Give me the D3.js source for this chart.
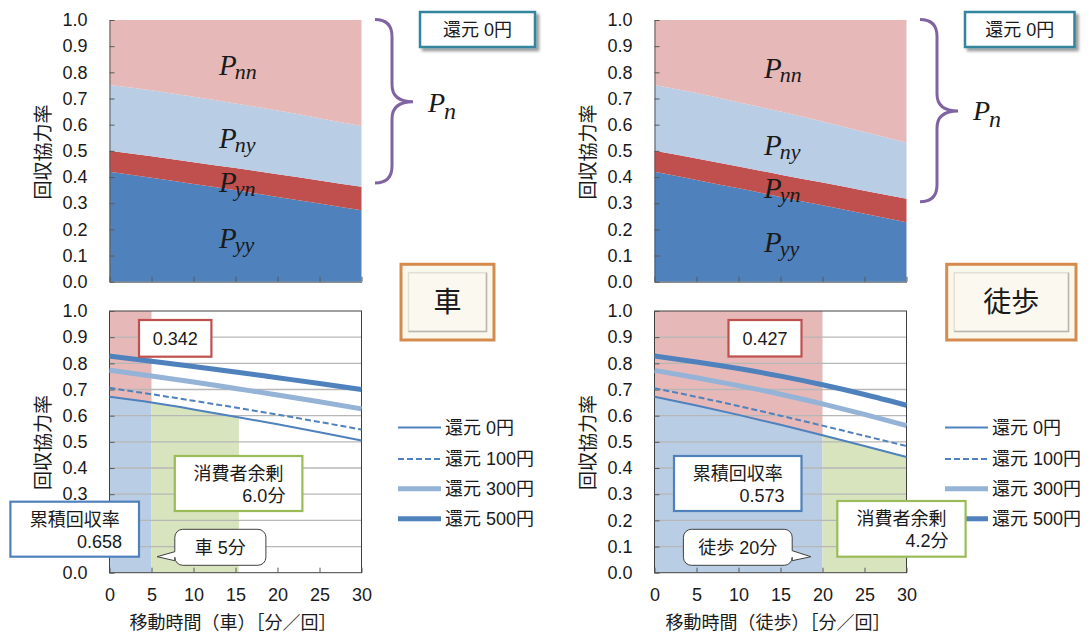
<!DOCTYPE html>
<html><head><meta charset="utf-8">
<script src="https://cdn.jsdelivr.net/npm/d3@7"></script>
<style>
body{margin:0;background:#fff;}
svg text{font-family:"Liberation Sans",Arial,"Noto Sans CJK JP",sans-serif;fill:#1a1a1a;}
</style></head><body>
<svg id="c" width="1090" height="637"></svg>
<script>
// ---------------- data ----------------
const minutes = [0, 5, 10, 15, 20, 25, 30];
const xTickLabels = ["0", "5", "10", "15", "20", "25", "30"];
const yTickValues = [0, 0.1, 0.2, 0.3, 0.4, 0.5, 0.6, 0.7, 0.8, 0.9, 1.0];
const yTickLabels = ["0.0", "0.1", "0.2", "0.3", "0.4", "0.5", "0.6", "0.7", "0.8", "0.9", "1.0"];
const stackKeys = ["Pyy", "Pyn", "Pny", "Pnn"];
const stackLabelSubs = ["yy", "yn", "ny", "nn"];

// car (車) – stacked shares
const carPyy = [0.420, 0.397, 0.373, 0.349, 0.324, 0.299, 0.273];
const carPyn = [0.080, 0.082, 0.083, 0.085, 0.087, 0.088, 0.090];
const carPny = [0.252, 0.253, 0.251, 0.247, 0.243, 0.238, 0.232];
const carPnn = [0.248, 0.268, 0.293, 0.319, 0.346, 0.375, 0.405];
// walk (徒歩) – stacked shares
const walkPyy = [0.420, 0.389, 0.357, 0.324, 0.292, 0.260, 0.227];
const walkPyn = [0.080, 0.082, 0.083, 0.085, 0.087, 0.088, 0.090];
const walkPny = [0.252, 0.250, 0.246, 0.241, 0.233, 0.224, 0.215];
const walkPnn = [0.248, 0.279, 0.314, 0.350, 0.388, 0.428, 0.468];

// recovery-rate lines
const lineNames = ["還元 0円", "還元 100円", "還元 300円", "還元 500円"];
const car0   = [0.672, 0.650, 0.624, 0.596, 0.567, 0.537, 0.505];
const car100 = [0.706, 0.682, 0.657, 0.631, 0.604, 0.576, 0.547];
const car300 = [0.774, 0.752, 0.729, 0.704, 0.679, 0.653, 0.626];
const car500 = [0.828, 0.808, 0.788, 0.767, 0.745, 0.723, 0.700];
const walk0   = [0.672, 0.639, 0.603, 0.565, 0.525, 0.484, 0.442];
const walk100 = [0.705, 0.672, 0.637, 0.600, 0.562, 0.523, 0.484];
const walk300 = [0.773, 0.745, 0.715, 0.682, 0.645, 0.605, 0.562];
const walk500 = [0.828, 0.805, 0.780, 0.751, 0.718, 0.681, 0.640];

const modeLabels = ["車", "徒歩"];
const travelTime = [5, 20];
const surplusEnd = [15.4, 30];
const cumLabel = "累積回収率";
const cumRate = ["0.658", "0.573"];
const restRate = ["0.342", "0.427"];
const surplusLabel = "消費者余剰";
const surplusText = ["6.0分", "4.2分"];
const calloutText = ["車 5分", "徒歩 20分"];
const axisTitles = ["移動時間（車）［分／回］", "移動時間（徒歩）［分／回］"];
const yTitle = "回収協力率";
const topBoxText = "還元 0円";

// ---------------- styles / layout ----------------
const stackColors = ["#4F81BD", "#C0504D", "#B9CDE5", "#E6B9B8"];
const lineStyles = [
  {w: 2, c: "#4F81BD", dash: null},
  {w: 2, c: "#4F81BD", dash: "6,3"},
  {w: 5, c: "#95B3D7", dash: null},
  {w: 5, c: "#4F81BD", dash: null}
];
const shadeColors = {red: "#E6B9B8", blue: "#B9CDE5", green: "#D7E4BD"};
const FS = 18;

const panels = [
  {pyy: carPyy, pyn: carPyn, pny: carPny, pnn: carPnn, lines: [car0, car100, car300, car500],
   labelBase: [248, 192, 148, 75], braceBottom: 183, braceMid: 101.7, pnBase: 111.7,
   legendX: 398,
   restBox: [139, 320, 72.4, 36.7], cumBox: [10.4, 501.7, 128.6, 55], surBox: [174.8, 456, 127.6, 55],
   callout: {x1: 174.8, y1: 529.3, x2: 265.9, y2: 565.3, side: "left", tx: 157, ty: 556.7, b1: 551.7, b2: 560.7},
   modeBox: [401, 264.3, 93, 75.7]},
  {pyy: walkPyy, pyn: walkPyn, pny: walkPny, pnn: walkPnn, lines: [walk0, walk100, walk300, walk500],
   labelBase: [252, 198, 155, 78], braceBottom: 201.7, braceMid: 111, pnBase: 120,
   legendX: 400,
   restBox: [183.5, 320, 73, 36.5], cumBox: [129, 456, 127.5, 55], surBox: [292.3, 501, 128.3, 55.7],
   callout: {x1: 138.4, y1: 529.3, x2: 247.2, y2: 565.3, side: "right", tx: 265.9, ty: 556.7, b1: 550.7, b2: 560.7},
   modeBox: [401.7, 264.3, 129.3, 75.7]}
];

const svg = d3.select("#c");
svg.append("rect").attr("width", 1090).attr("height", 637).attr("fill", "#fff");
const defs = svg.append("defs");
const sh = defs.append("filter").attr("id", "sh").attr("x", "-20%").attr("y", "-30%").attr("width", "150%").attr("height", "180%");
sh.append("feGaussianBlur").attr("in", "SourceAlpha").attr("stdDeviation", 1.5);
sh.append("feOffset").attr("dx", 3).attr("dy", 3);
sh.append("feComponentTransfer").append("feFuncA").attr("type", "linear").attr("slope", 0.4);
const mg = sh.append("feMerge"); mg.append("feMergeNode"); mg.append("feMergeNode").attr("in", "SourceGraphic");

function styleAxis(sel) {
  sel.select(".domain").attr("stroke", "#595959").attr("stroke-width", 1);
  sel.selectAll(".tick line").attr("stroke", "#595959");
  sel.selectAll(".tick text").attr("font-size", FS).attr("fill", "#1a1a1a")
     .attr("font-family", '"Liberation Sans",Arial,sans-serif');
}

function calloutPath(c, r) {
  const {x1, y1, x2, y2} = c;
  let p = `M${x1 + r},${y1}H${x2 - r}A${r},${r} 0 0 1 ${x2},${y1 + r}`;
  if (c.side === "right") p += `V${c.b1}L${c.tx},${c.ty}L${x2},${c.b2}`;
  p += `V${y2 - r}A${r},${r} 0 0 1 ${x2 - r},${y2}H${x1 + r}A${r},${r} 0 0 1 ${x1},${y2 - r}`;
  if (c.side === "left") p += `V${c.b2}L${c.tx},${c.ty}L${x1},${c.b1}`;
  p += `V${y1 + r}A${r},${r} 0 0 1 ${x1 + r},${y1}Z`;
  return p;
}

panels.forEach((P, i) => {
  const ox = i * 545;
  const g = svg.append("g").attr("transform", `translate(${ox},0)`);
  const x = d3.scaleLinear().domain([0, 30]).range([109.5, 361.5]);
  const yT = d3.scaleLinear().domain([0, 1]).range([281.7, 20]);
  const yB = d3.scaleLinear().domain([0, 1]).range([572.7, 311]);

  // ---------- top stacked chart ----------
  const rows = minutes.map((m, j) => ({m, Pyy: P.pyy[j], Pyn: P.pyn[j], Pny: P.pny[j], Pnn: P.pnn[j]}));
  const series = d3.stack().keys(stackKeys)(rows);
  const area = d3.area().x(d => x(d.data.m)).y0(d => yT(d[0])).y1(d => yT(Math.min(1, d[1]))).curve(d3.curveMonotoneX);
  g.append("g").selectAll("path").data(series).join("path")
    .attr("d", area).attr("fill", (d, k) => stackColors[k]);

  const yAxT = g.append("g").attr("transform", `translate(${x(0)},0)`)
    .call(d3.axisLeft(yT).tickValues(yTickValues).tickFormat((d, k) => yTickLabels[k]).tickSizeInner(-5).tickSizeOuter(0).tickPadding(22));
  styleAxis(yAxT);
  const xAxT = g.append("g").attr("transform", `translate(0,${yT(0)})`)
    .call(d3.axisBottom(x).tickValues(minutes).tickFormat("").tickSizeInner(-5).tickSizeOuter(0));
  styleAxis(xAxT);

  // P labels
  stackKeys.forEach((k, j) => {
    const t = g.append("text").attr("x", 219).attr("y", P.labelBase[j]).attr("font-style", "italic");
    t.append("tspan").text("P").attr("font-size", 29).style("font-family", '"Liberation Serif",serif');
    t.append("tspan").text(stackLabelSubs[j]).attr("font-size", 22).attr("dy", 4).attr("dx", -2).style("font-family", '"Liberation Serif",serif');
  });

  // brace
  const bx0 = 375, bxv = 392, bxt = 413, bt = 19.5, bb = P.braceBottom, bm = P.braceMid, r = 17;
  g.append("path")
    .attr("d", `M${bx0},${bt}Q${bxv},${bt} ${bxv},${bt + r}V${bm - r}Q${bxv},${bm} ${bxt},${bm}Q${bxv},${bm} ${bxv},${bm + r}V${bb - r}Q${bxv},${bb} ${bx0},${bb}`)
    .attr("fill", "none").attr("stroke", "#8064A2").attr("stroke-width", 3);
  const pn = g.append("text").attr("x", 428).attr("y", P.pnBase).attr("font-style", "italic");
  pn.append("tspan").text("P").attr("font-size", 28).style("font-family", '"Liberation Serif",serif');
  pn.append("tspan").text("n").attr("font-size", 24).attr("dy", 7).attr("dx", -1).style("font-family", '"Liberation Serif",serif');

  // 還元 0円 box
  const bw = i === 0 ? 115 : 109.5;
  const bxs = 420;
  g.append("rect").attr("x", bxs).attr("y", 12).attr("width", bw).attr("height", 35)
    .attr("fill", "#fff").attr("stroke", "#31859C").attr("stroke-width", 2.5).attr("filter", "url(#sh)");
  g.append("text").attr("x", bxs + bw / 2).attr("y", 30).attr("dy", "0.35em").attr("text-anchor", "middle")
    .attr("font-size", FS).text(topBoxText);

  // mode box
  const [mx, my, mw, mh] = P.modeBox;
  g.append("rect").attr("x", mx).attr("y", my).attr("width", mw).attr("height", mh)
    .attr("fill", "#FAF7EC").attr("stroke", "#D68B4E").attr("stroke-width", 3);
  g.append("rect").attr("x", mx + 7.5).attr("y", my + 8.4).attr("width", mw - 15).attr("height", mh - 17)
    .attr("fill", "#FAF8EF").attr("stroke", "#E2E0D6").attr("stroke-width", 1.5);
  g.append("path").attr("d", `M${mx + mw - 7.5},${my + 8.4}V${my + mh - 8.6}H${mx + 7.5}`)
    .attr("fill", "none").attr("stroke", "#B8B6AE").attr("stroke-width", 1.5);
  g.append("text").attr("x", mx + mw / 2).attr("y", my + mh / 2).attr("dy", "0.36em").attr("text-anchor", "middle")
    .attr("font-size", 28).style("font-family", '"Noto Sans CJK JP",sans-serif').text(modeLabels[i]);

  // ---------- lower line chart ----------
  const line0 = P.lines[0];
  const pts = minutes.map((m, j) => ({m, v: line0[j]}));
  const T = travelTime[i], E = surplusEnd[i];
  const regions = [
    {x0: 0, x1: T, color: shadeColors.red, y0: d => yB(d.v), y1: () => yB(1)},
    {x0: 0, x1: T, color: shadeColors.blue, y0: () => yB(0), y1: d => yB(d.v)},
    {x0: T, x1: E, color: shadeColors.green, y0: () => yB(0), y1: d => yB(d.v)}
  ];
  regions.forEach((R, k) => {
    const id = `clip${i}_${k}`;
    defs.append("clipPath").attr("id", id).append("rect")
      .attr("x", x(R.x0)).attr("y", yB(1)).attr("width", x(R.x1) - x(R.x0)).attr("height", yB(0) - yB(1));
    g.append("path").datum(pts)
      .attr("d", d3.area().x(d => x(d.m)).y0(R.y0).y1(R.y1).curve(d3.curveMonotoneX))
      .attr("fill", R.color).attr("clip-path", `url(#${id})`);
  });
  // grid
  g.append("g").selectAll("line").data(yTickValues.slice(1, -1)).join("line")
    .attr("x1", x(0)).attr("x2", x(30)).attr("y1", d => yB(d)).attr("y2", d => yB(d))
    .attr("stroke", "#B7B7B7").attr("stroke-width", 1.3);
  g.append("rect").attr("x", x(0)).attr("y", yB(1)).attr("width", x(30) - x(0)).attr("height", yB(0) - yB(1))
    .attr("fill", "none").attr("stroke", "#404040").attr("stroke-width", 1);
  const yAxB = g.append("g").attr("transform", `translate(${x(0)},0)`)
    .call(d3.axisLeft(yB).tickValues(yTickValues).tickFormat((d, k) => yTickLabels[k]).tickSizeInner(-5).tickSizeOuter(0).tickPadding(22));
  styleAxis(yAxB);
  yAxB.select(".domain").remove();
  const xAxB = g.append("g").attr("transform", `translate(0,${yB(0)})`)
    .call(d3.axisBottom(x).tickValues(minutes).tickFormat((d, k) => xTickLabels[k]).tickSizeInner(-5).tickSizeOuter(0).tickPadding(16));
  styleAxis(xAxB);
  xAxB.select(".domain").remove();

  // lines
  P.lines.forEach((vals, k) => {
    const st = lineStyles[k];
    g.append("path").datum(minutes.map((m, j) => ({m, v: vals[j]})))
      .attr("d", d3.line().x(d => x(d.m)).y(d => yB(d.v)).curve(d3.curveMonotoneX))
      .attr("fill", "none").attr("stroke", st.c).attr("stroke-width", st.w)
      .attr("stroke-dasharray", st.dash);
  });

  // axis titles
  g.append("text").attr("transform", `translate(43.5,152) rotate(-90)`).attr("text-anchor", "middle").attr("dy", "0.35em")
    .attr("font-size", 19).text(yTitle);
  g.append("text").attr("transform", `translate(43.5,442.5) rotate(-90)`).attr("text-anchor", "middle").attr("dy", "0.35em")
    .attr("font-size", 19).text(yTitle);
  g.append("text").attr("x", 233).attr("y", 623).attr("dy", "0.35em").attr("text-anchor", "middle")
    .attr("font-size", FS).text(axisTitles[i]);

  // legend
  const legY = [427.5, 459, 488.7, 518.8];
  lineNames.forEach((nm, k) => {
    const st = lineStyles[k];
    g.append("line").attr("x1", P.legendX).attr("x2", P.legendX + 43).attr("y1", legY[k]).attr("y2", legY[k])
      .attr("stroke", st.c).attr("stroke-width", st.w).attr("stroke-dasharray", st.dash);
    g.append("text").attr("x", P.legendX + 47).attr("y", legY[k]).attr("dy", "0.36em")
      .attr("font-size", FS).text(nm);
  });

  // annotation boxes
  function box(b, color) {
    g.append("rect").attr("x", b[0]).attr("y", b[1]).attr("width", b[2]).attr("height", b[3])
      .attr("fill", "#fff").attr("stroke", color).attr("stroke-width", 2.2);
  }
  box(P.restBox, "#C0504D");
  g.append("text").attr("x", P.restBox[0] + P.restBox[2] / 2).attr("y", P.restBox[1] + P.restBox[3] / 2)
    .attr("dy", "0.36em").attr("text-anchor", "middle").attr("font-size", FS).text(restRate[i]);

  box(P.cumBox, "#4F81BD");
  g.append("text").attr("x", P.cumBox[0] + P.cumBox[2] / 2).attr("y", P.cumBox[1] + 18)
    .attr("dy", "0.36em").attr("text-anchor", "middle").attr("font-size", FS).text(cumLabel);
  g.append("text").attr("x", P.cumBox[0] + P.cumBox[2] - 17).attr("y", P.cumBox[1] + 39.5)
    .attr("dy", "0.36em").attr("text-anchor", "end").attr("font-size", FS).text(cumRate[i]);

  box(P.surBox, "#9BBB59");
  g.append("text").attr("x", P.surBox[0] + P.surBox[2] / 2).attr("y", P.surBox[1] + 18)
    .attr("dy", "0.36em").attr("text-anchor", "middle").attr("font-size", FS).text(surplusLabel);
  g.append("text").attr("x", P.surBox[0] + P.surBox[2] - 17).attr("y", P.surBox[1] + 39.5)
    .attr("dy", "0.36em").attr("text-anchor", "end").attr("font-size", FS).text(surplusText[i]);

  const C = P.callout;
  g.append("path").attr("d", calloutPath(C, 8)).attr("fill", "#fff").attr("stroke", "#404040").attr("stroke-width", 1);
  g.append("text").attr("x", (C.x1 + C.x2) / 2).attr("y", (C.y1 + C.y2) / 2)
    .attr("dy", "0.36em").attr("text-anchor", "middle").attr("font-size", FS).text(calloutText[i]);
});
</script>
</body></html>
